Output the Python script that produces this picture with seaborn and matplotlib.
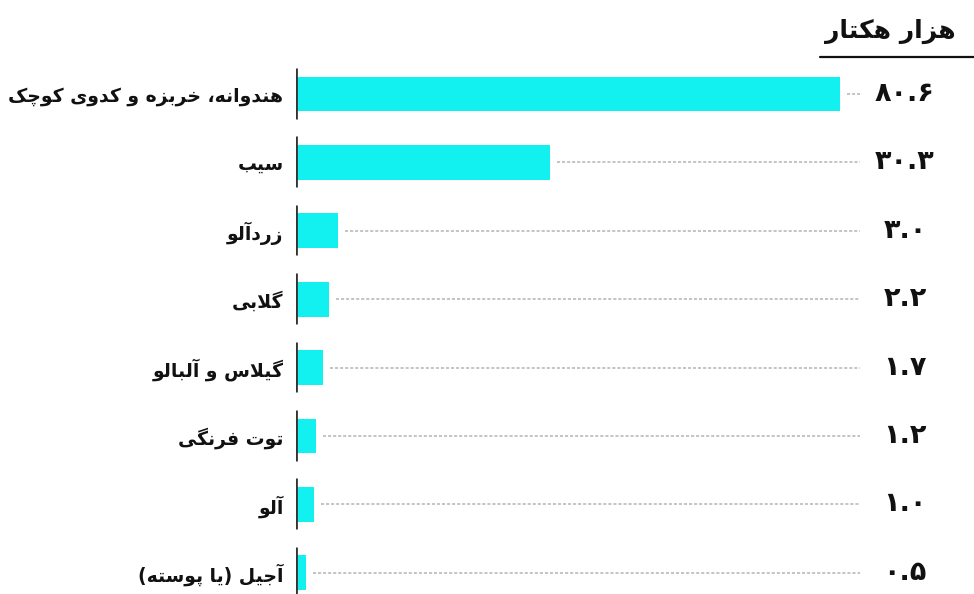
import numpy as np
import pandas as pd
import matplotlib
matplotlib.use("Agg")
import matplotlib.pyplot as plt
from matplotlib.lines import Line2D
import seaborn as sns

# Harvested area, thousand hectares
categories = [
    "هندوانه، خربزه و کدوی کوچک",
    "سیب",
    "زردآلو",
    "گلابی",
    "گیلاس و آلبالو",
    "توت فرنگی",
    "آلو",
    "آجیل (یا پوسته)",
]
values = [80.6, 30.3, 3.0, 2.2, 1.7, 1.2, 1.0, 0.5]
unit_label = "هزار هکتار"

# ---------------------------------------------------------------------------
# Minimal Persian shaping: contextual forms + right-to-left visual order
# (isolated, final, initial, medial)
FORMS = {
    "\u0622": ("\uFE81", "\uFE82", None, None),
    "\u0627": ("\uFE8D", "\uFE8E", None, None),
    "\u0628": ("\uFE8F", "\uFE90", "\uFE91", "\uFE92"),
    "\u067E": ("\uFB56", "\uFB57", "\uFB58", "\uFB59"),
    "\u062A": ("\uFE95", "\uFE96", "\uFE97", "\uFE98"),
    "\u062C": ("\uFE9D", "\uFE9E", "\uFE9F", "\uFEA0"),
    "\u0686": ("\uFB7A", "\uFB7B", "\uFB7C", "\uFB7D"),
    "\u062E": ("\uFEA5", "\uFEA6", "\uFEA7", "\uFEA8"),
    "\u062F": ("\uFEA9", "\uFEAA", None, None),
    "\u0631": ("\uFEAD", "\uFEAE", None, None),
    "\u0632": ("\uFEAF", "\uFEB0", None, None),
    "\u0633": ("\uFEB1", "\uFEB2", "\uFEB3", "\uFEB4"),
    "\u0641": ("\uFED1", "\uFED2", "\uFED3", "\uFED4"),
    "\u06A9": ("\uFB8E", "\uFB8F", "\uFB90", "\uFB91"),
    "\u06AF": ("\uFB92", "\uFB93", "\uFB94", "\uFB95"),
    "\u0644": ("\uFEDD", "\uFEDE", "\uFEDF", "\uFEE0"),
    "\u0646": ("\uFEE5", "\uFEE6", "\uFEE7", "\uFEE8"),
    "\u0647": ("\uFEE9", "\uFEEA", "\uFEEB", "\uFEEC"),
    "\u0648": ("\uFEED", "\uFEEE", None, None),
    "\u06CC": ("\uFBFC", "\uFBFD", "\uFBFE", "\uFBFF"),
}
LAM_ALEF = {"\u0627": ("\uFEFB", "\uFEFC"), "\u0622": ("\uFEF5", "\uFEF6")}
MIRROR = {"(": ")", ")": "("}


def dual(ch):
    f = FORMS.get(ch)
    return f is not None and f[2] is not None


def shape_fa(text):
    # merge lam + alef into ligature tokens
    toks = []
    i = 0
    while i < len(text):
        c = text[i]
        if c == "\u0644" and i + 1 < len(text) and text[i + 1] in LAM_ALEF:
            toks.append(("LA", text[i + 1]))
            i += 2
        else:
            toks.append(("C", c))
            i += 1
    out = []
    for k, (kind, c) in enumerate(toks):
        prev = toks[k - 1] if k > 0 else None
        nxt = toks[k + 1] if k + 1 < len(toks) else None
        jp = prev is not None and prev[0] == "C" and dual(prev[1])
        if kind == "LA":
            out.append(LAM_ALEF[c][1] if jp else LAM_ALEF[c][0])
            continue
        if c not in FORMS:
            out.append(c)
            continue
        jn = dual(c) and nxt is not None and (nxt[0] == "LA" or nxt[1] in FORMS)
        f = FORMS[c]
        if jp and jn:
            out.append(f[3])
        elif jp:
            out.append(f[1])
        elif jn:
            out.append(f[2])
        else:
            out.append(f[0])
    return "".join(MIRROR.get(ch, ch) for ch in reversed(out))


FA_DIGITS = str.maketrans("0123456789", "۰۱۲۳۴۵۶۷۸۹")


def fa_number(v):
    return f"{v:.1f}".translate(FA_DIGITS)


# ---------------------------------------------------------------------------
sns.set_style("white")
plt.rcParams["font.family"] = ["DejaVu Sans"]

W, H = 974, 594
fig = plt.figure(figsize=(W / 100, H / 100), dpi=100)
fig.patch.set_facecolor("white")

ax_left, ax_right = 296, 974
ax = fig.add_axes([ax_left / W, 0, (ax_right - ax_left) / W, 1])

# compressed (power) value axis so the small categories stay visible
P = 0.78


def fwd(x):
    x = np.asarray(x, dtype=float)
    return np.sign(x) * np.abs(x) ** P


def inv(x):
    x = np.asarray(x, dtype=float)
    return np.sign(x) * np.abs(x) ** (1 / P)


ax.set_xscale("function", functions=(fwd, inv))

df = pd.DataFrame({"category": categories, "value": values})
sns.barplot(data=df, x="value", y="category", orient="h", ax=ax,
            color="#12F0F0", width=0.51, saturation=1, edgecolor="none")

# the longest bar ends at 840 px
x_top = float(inv(fwd(max(values)) * (ax_right - ax_left) / (840 - ax_left)))
ax.set_xlim(0, x_top)
y0, step = 94, 68.4
ax.set_ylim(len(categories) - 1 + (H - (y0 + step * (len(categories) - 1))) / step,
            -y0 / step)

for s in ax.spines.values():
    s.set_visible(False)
ax.set_xticks([])
ax.set_xlabel("")
ax.set_ylabel("")
ax.set_yticks(range(len(categories)))
ax.set_yticklabels([shape_fa(c) for c in categories], fontsize=13.5,
                   fontweight="bold", color="#111111")
ax.tick_params(axis="y", length=0, pad=9)

# short dark baseline segment at each bar
ax.vlines([0] * len(values), np.arange(len(values)) - 0.38,
          np.arange(len(values)) + 0.36, color="#333333", lw=2, zorder=3)

# dotted leaders and value labels
fig.canvas.draw()
to_data = ax.transData.inverted()
end_px = 860
for i, v in enumerate(values):
    bar_end_px = ax.transData.transform((v, i))[0]
    start = to_data.transform((bar_end_px + 7, 0))[0]
    end = to_data.transform((end_px, 0))[0]
    ax.plot([start, end], [i, i], color="#B4B4B4", lw=1.1,
            linestyle=(0, (2, 1.3)), zorder=1)
    ax.text((905 - ax_left) / (ax_right - ax_left), i, fa_number(v),
            transform=ax.get_yaxis_transform(), ha="center", va="center",
            fontsize=19.5, fontweight="bold", color="#111111")

# unit label with rule underneath
fig.text(890 / W, 1 - 31 / H, shape_fa(unit_label), ha="center", va="center",
         fontsize=18, fontweight="bold", color="#111111")
fig.add_artist(Line2D([820 / W, 1.0], [1 - 57 / H, 1 - 57 / H],
                      color="#111111", lw=1.6))

fig.savefig("out.png", dpi=100, facecolor="white")
